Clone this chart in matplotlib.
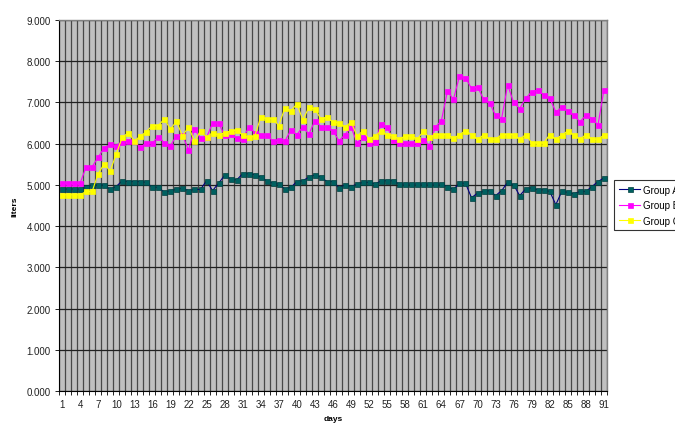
import matplotlib
matplotlib.use("Agg")
import matplotlib.pyplot as plt
import numpy as np

days = list(range(1, 92))
tick_days = list(range(1, 92, 3))
y_ticks = [0, 1, 2, 3, 4, 5, 6, 7, 8, 9]

group_a = [4.9, 4.9, 4.9, 4.9, 4.94, 5.0, 5.0, 5.0, 4.89, 4.96,
           5.1, 5.08, 5.08, 5.08, 5.06, 4.94, 4.94, 4.82, 4.86, 4.89,
           4.92, 4.86, 4.89, 4.89, 5.1, 4.86, 5.04, 5.23, 5.15, 5.12,
           5.27, 5.27, 5.25, 5.19, 5.1, 5.04, 5.02, 4.9, 4.94, 5.08,
           5.1, 5.19, 5.24, 5.19, 5.08, 5.08, 4.93, 5.0, 4.96, 5.02,
           5.06, 5.06, 5.02, 5.1, 5.1, 5.1, 5.02, 5.02, 5.02, 5.02,
           5.02, 5.02, 5.02, 5.02, 4.96, 4.89, 5.04, 5.04, 4.69, 4.8,
           4.84, 4.86, 4.74, 4.86, 5.06, 5.0, 4.74, 4.9, 4.93, 4.88,
           4.88, 4.84, 4.52, 4.84, 4.82, 4.78, 4.84, 4.84, 4.96, 5.08,
           5.17]
group_b = [5.04, 5.04, 5.04, 5.04, 5.43, 5.44, 5.67, 5.9, 5.98, 5.95,
           6.05, 6.07, 6.06, 5.91, 6.02, 6.01, 6.17, 6.02, 5.95, 6.19,
           6.21, 5.85, 6.35, 6.13, 6.15, 6.5, 6.5, 6.2, 6.23, 6.13,
           6.11, 6.4, 6.27, 6.21, 6.21, 6.06, 6.09, 6.06, 6.33, 6.22,
           6.41, 6.23, 6.56, 6.41, 6.41, 6.31, 6.07, 6.22, 6.4, 6.02,
           6.17, 6.01, 6.03, 6.48, 6.4, 6.09, 6.02, 6.02, 6.02, 6.02,
           6.1, 5.95, 6.4, 6.56, 7.27, 7.08, 7.63, 7.6, 7.34, 7.38,
           7.08, 6.98, 6.69, 6.61, 7.42, 7.0, 6.85, 7.1, 7.26, 7.3,
           7.18, 7.1, 6.77, 6.88, 6.8, 6.69, 6.53, 6.69, 6.61, 6.45,
           7.31]
group_c = [4.76, 4.76, 4.76, 4.76, 4.84, 4.84, 5.27, 5.51, 5.33, 5.75,
           6.15, 6.27, 6.07, 6.18, 6.29, 6.44, 6.44, 6.6, 6.35, 6.54,
           6.19, 6.4, 6.07, 6.31, 6.15, 6.27, 6.21, 6.27, 6.3, 6.33,
           6.21, 6.15, 6.18, 6.64, 6.61, 6.6, 6.44, 6.86, 6.8, 6.96,
           6.58, 6.88, 6.84, 6.6, 6.64, 6.52, 6.5, 6.41, 6.52, 6.19,
           6.31, 6.11, 6.19, 6.31, 6.22, 6.19, 6.11, 6.19, 6.19, 6.11,
           6.3, 6.15, 6.22, 6.22, 6.22, 6.13, 6.22, 6.31, 6.22, 6.11,
           6.21, 6.11, 6.11, 6.22, 6.22, 6.22, 6.11, 6.22, 6.02, 6.02,
           6.02, 6.22, 6.11, 6.21, 6.31, 6.22, 6.11, 6.22, 6.11, 6.11,
           6.21]

plt.rcParams['font.family'] = ['Liberation Sans', 'DejaVu Sans']

fig = plt.figure(figsize=(6.75, 4.27), dpi=100)
fig.patch.set_facecolor('white')
ax = fig.add_axes([59/675, 35/427, 548/675, 371/427])
ax.set_facecolor('#c0c0c0')

ax.plot(days, group_a, color='#000080', lw=0.8, marker='s', ms=3.6,
        mfc='#006060', mec='#004040', mew=0.5, label='Group A', zorder=3)
ax.plot(days, group_b, color='#ff00ff', lw=0.8, marker='s', ms=3.6,
        mfc='#ff00ff', mec='#ff00ff', mew=0.5, label='Group B', zorder=3)
ax.plot(days, group_c, color='#ffff00', lw=0.8, marker='s', ms=3.6,
        mfc='#ffff00', mec='#ffff00', mew=0.5, label='Group C', zorder=3)

ax.set_xlim(0.5, 91.5)
ax.set_ylim(0, 9)
ax.set_yticks(y_ticks)
ax.set_yticklabels([f"{v:.3f}" for v in y_ticks])
ax.set_xticks(tick_days)
ax.set_xticklabels([str(d) for d in tick_days])
ax.set_xticks(np.arange(0.5, 92, 1.0), minor=True)

ax.tick_params(axis='x', which='major', length=0, pad=6, labelsize=7, labelcolor='#222222')
ax.tick_params(axis='x', which='minor', length=3, width=0.6, direction='out', color='black')
ax.tick_params(axis='y', which='major', length=3, width=0.6, direction='out', labelsize=7,
               labelcolor='#222222', pad=3)

ax.grid(False)
ax.xaxis.grid(True, which='minor', color='#484848', lw=0.9)
ax.yaxis.grid(True, which='major', color='#202020', lw=0.9)
ax.set_axisbelow(True)

for side in ['top', 'right']:
    ax.spines[side].set_color('#808080')
    ax.spines[side].set_linewidth(1.0)
for side in ['left', 'bottom']:
    ax.spines[side].set_color('black')
    ax.spines[side].set_linewidth(0.8)

ax.set_ylabel('liters', fontsize=6, fontweight='bold', labelpad=6)
ax.set_xlabel('days', fontsize=6, fontweight='bold', labelpad=4)

leg = fig.legend(loc='upper left', bbox_to_anchor=(614/675, 1 - 181/427),
                 fontsize=7, frameon=True, fancybox=False, edgecolor='black',
                 handlelength=2.2, handletextpad=0.3, borderpad=0.5, labelspacing=0.55,
                 borderaxespad=0)
leg.get_frame().set_linewidth(0.8)

fig.savefig('out.png', dpi=100)
